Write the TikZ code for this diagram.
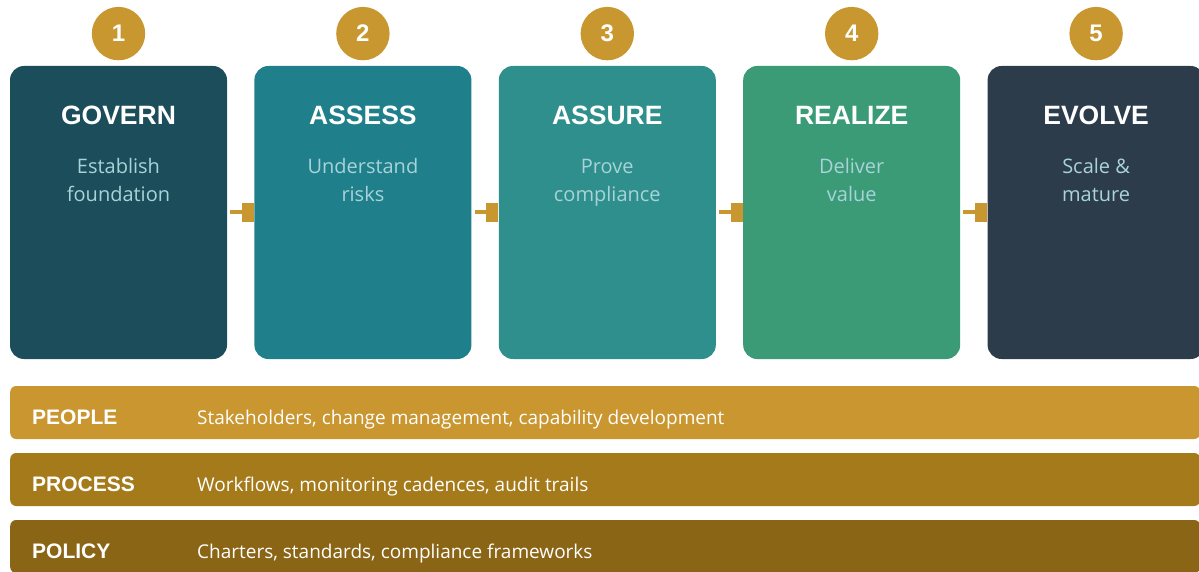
\documentclass[tikz,border=0pt]{standalone}
\usepackage{fontspec}
\setmainfont{Liberation Sans}
\newfontfamily\descfont{Open Sans}
\usetikzlibrary{positioning}

\definecolor{gold}{HTML}{C9972F}
\definecolor{governc}{HTML}{1C4D5B}
\definecolor{assessc}{HTML}{1F7F8B}
\definecolor{assurec}{HTML}{2E8F8C}
\definecolor{realizec}{HTML}{3B9B77}
\definecolor{evolvec}{HTML}{2C3C4B}
\definecolor{softcyan}{HTML}{A8D3D8}
\definecolor{peoplec}{HTML}{C9962F}
\definecolor{processc}{HTML}{A57A1A}
\definecolor{policyc}{HTML}{8A6516}

\begin{document}
\begin{tikzpicture}[x=1pt,y=1pt,phase/.style={rectangle,rounded corners=14pt,minimum width=217pt,minimum height=293pt,inner sep=0pt}, badge/.style={circle,fill=gold,minimum size=53.4pt,inner sep=0pt,text=white,font=\bfseries\fontsize{24}{24}\selectfont}, title/.style={anchor=base,text=white,font=\bfseries\fontsize{26.5}{26.5}\selectfont}, note/.style={anchor=base,align=center,text=softcyan,font=\descfont\fontsize{20}{28.4}\selectfont}, tab/.style={rectangle,fill=gold,minimum width=12pt,minimum height=19pt,inner sep=0pt}, link/.style={draw=gold,line width=4pt}, lane/.style={rectangle,rounded corners=6pt,minimum width=1190pt,minimum height=53pt,inner sep=0pt,anchor=west}, lanetitle/.style={anchor=base west,inner sep=0pt,text=white,font=\bfseries\fontsize{21}{21}\selectfont}, lanetext/.style={anchor=base west,inner sep=0pt,text=white,font=\descfont\fontsize{19}{19}\selectfont}]
\useasboundingbox (0,0) rectangle (1199,-572);
\clip (0,0) rectangle (1199,-572);

\node(govern)[phase,fill=governc] at (118.5,-212.5) {};
\node(assess)[phase,fill=assessc,right=27pt of govern] {};
\node(assure)[phase,fill=assurec,right=27pt of assess] {};
\node(realize)[phase,fill=realizec,right=27pt of assure] {};
\node(evolve)[phase,fill=evolvec,right=27pt of realize] {};

\node(one)[badge,above=5.3pt of govern] {1};
\node(two)[badge,above=5.3pt of assess] {2};
\node(three)[badge,above=5.3pt of assure] {3};
\node(four)[badge,above=5.3pt of realize] {4};
\node(five)[badge,above=5.3pt of evolve] {5};

\node(govname)[title] at ([yshift=-59pt]govern.north) {GOVERN};
\node(assname)[title] at ([yshift=-59pt]assess.north) {ASSESS};
\node(asuname)[title] at ([yshift=-59pt]assure.north) {ASSURE};
\node(realname)[title] at ([yshift=-59pt]realize.north) {REALIZE};
\node(evoname)[title] at ([yshift=-59pt]evolve.north) {EVOLVE};

\node(govnote)[note] at ([yshift=-135.7pt]govern.north) {Establish\\foundation};
\node(assnote)[note] at ([yshift=-135.7pt]assess.north) {Understand\\risks};
\node(asunote)[note] at ([yshift=-135.7pt]assure.north) {Prove\\compliance};
\node(realnote)[note] at ([yshift=-135.7pt]realize.north) {Deliver\\value};
\node(evonote)[note] at ([yshift=-135.7pt]evolve.north) {Scale \&\\mature};

\node(tab2)[tab,left=0pt of assess.west] {};
\node(tab3)[tab,left=0pt of assure.west] {};
\node(tab4)[tab,left=0pt of realize.west] {};
\node(tab5)[tab,left=0pt of evolve.west] {};

\draw [link] ([xshift=3pt]govern.east) to (tab2.west);
\draw [link] ([xshift=3pt]assess.east) to (tab3.west);
\draw [link] ([xshift=3pt]assure.east) to (tab4.west);
\draw [link] ([xshift=3pt]realize.east) to (tab5.west);

\node(people)[lane,fill=peoplec] at (10,-412.5) {};
\node(process)[lane,fill=processc] at (10,-479.5) {};
\node(policy)[lane,fill=policyc] at (10,-546.5) {};

\node(peoplename)[lanetitle] at ([xshift=22pt,yshift=-11.5pt]people.west) {PEOPLE};
\node(processname)[lanetitle] at ([xshift=22pt,yshift=-11.5pt]process.west) {PROCESS};
\node(policyname)[lanetitle] at ([xshift=22pt,yshift=-11.5pt]policy.west) {POLICY};

\node(peopletext)[lanetext] at ([xshift=187pt,yshift=-11.5pt]people.west) {Stakeholders, change management, capability development};
\node(processtext)[lanetext] at ([xshift=187pt,yshift=-11.5pt]process.west) {Workflows, monitoring cadences, audit trails};
\node(policytext)[lanetext] at ([xshift=187pt,yshift=-11.5pt]policy.west) {Charters, standards, compliance frameworks};
\end{tikzpicture}
\end{document}
